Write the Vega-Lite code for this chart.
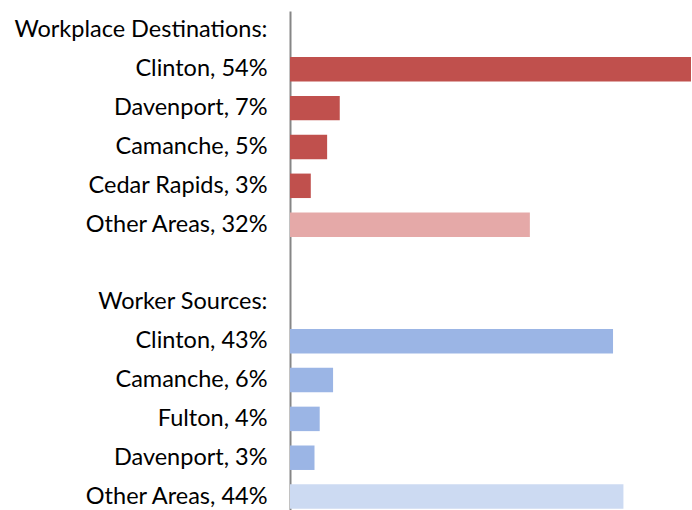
{
  "$schema": "https://vega.github.io/schema/vega-lite/v6.json",
  "autosize": "none",
  "width": 401,
  "height": 499,
  "padding": {"left": 290, "top": 11, "right": 1, "bottom": 0},
  "background": "white",
  "config": {"view": {"stroke": null}},
  "data": {
    "values": [
      {"label": "Workplace Destinations:", "value": null, "kind": "none"},
      {"label": "Clinton, 54%", "value": 54, "kind": "red"},
      {"label": "Davenport, 7%", "value": 6.7, "kind": "red"},
      {"label": "Camanche, 5%", "value": 5.0, "kind": "red"},
      {"label": "Cedar Rapids, 3%", "value": 2.8, "kind": "red"},
      {"label": "Other Areas, 32%", "value": 32.3, "kind": "redOther"},
      {"label": " ", "value": null, "kind": "none"},
      {"label": "Worker Sources:", "value": null, "kind": "none"},
      {"label": "Clinton, 43%", "value": 43.5, "kind": "blue"},
      {"label": "Camanche, 6%", "value": 5.8, "kind": "blue"},
      {"label": "Fulton, 4%", "value": 4.0, "kind": "blue"},
      {"label": "Davenport, 3%", "value": 3.3, "kind": "blue"},
      {"label": "Other Areas, 44%", "value": 44.9, "kind": "blueOther"}
    ]
  },
  "mark": {"type": "bar", "invalid": null},
  "encoding": {
    "y": {
      "field": "label",
      "type": "nominal",
      "sort": null,
      "scale": {
        "domain": ["Workplace Destinations:", "Clinton, 54%", "Davenport, 7%", "Camanche, 5%", "Cedar Rapids, 3%", "Other Areas, 32%", " ", "Worker Sources:", "Clinton, 43%", "Camanche, 6%", "Fulton, 4%", "Davenport, 3%", "Other Areas, 44%"],
        "range": [0, 505], "paddingInner": 0.37, "paddingOuter": 0.185
      },
      "axis": {
        "title": null,
        "ticks": false,
        "labelPadding": 23,
        "labelFont": "Lato",
        "labelFontSize": 23.5,
        "labelColor": "#000000",
        "labelLimit": 300,
        "domainColor": "#868686",
        "domainWidth": 2
      }
    },
    "x": {
      "field": "value",
      "type": "quantitative",
      "scale": {"domain": [0, 54], "nice": false},
      "axis": null
    },
    "color": {
      "field": "kind",
      "type": "nominal",
      "scale": {
        "domain": ["red", "redOther", "blue", "blueOther", "none"],
        "range": ["#C0504D", "#E5A9A8", "#9BB5E5", "#CCDAF2", "#ffffff"]
      },
      "legend": null
    }
  }
}
